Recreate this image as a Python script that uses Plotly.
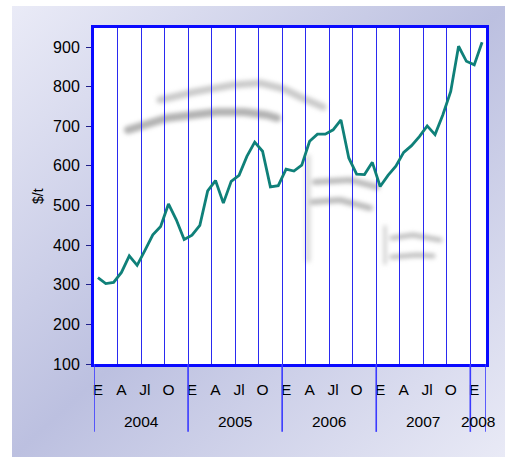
import base64
import plotly.graph_objects as go

# Monthly price, $/t, January 2004 - February 2008
month_index = list(range(50))
prices = [
    318, 303, 306, 331, 373, 349, 387, 426, 447, 504, 464, 414,   # 2004
    425, 450, 537, 563, 506, 561, 576, 624, 660, 637, 547, 550,   # 2005
    592, 587, 602, 662, 680, 680, 691, 716, 620, 579, 578, 609,   # 2006
    548, 576, 599, 634, 651, 674, 701, 679, 729, 788, 902, 864,   # 2007
    855, 912,                                                     # 2008
]
quarter_labels = ["E", "A", "Jl", "O"]
years = ["2004", "2005", "2006", "2007", "2008"]
months_per_year = [12, 12, 12, 12, 2]
y_ticks = [100, 200, 300, 400, 500, 600, 700, 800, 900]

W, H = 505, 457
ML, MR, MT, MB = 94, 19, 28, 93
PW, PH = W - ML - MR, H - MT - MB

FONT = "Liberation Sans, Arial, sans-serif"
BLUE = "#0a0aff"
GRID = "#2a2af0"
LINE = "#0f8079"

# quarter ticks and year boundaries
tick_pos = list(range(0, len(month_index), 3))
tick_txt = [quarter_labels[(p // 3) % 4] for p in tick_pos]
year_starts, s = [], 0
for n in months_per_year:
    year_starts.append(s)
    s += n
year_centres = [st + (n - 1) / 2 for st, n in zip(year_starts, months_per_year)]
year_bounds = [st - 0.5 for st in year_starts] + [len(month_index) - 0.5]


def svg_uri(svg):
    return "data:image/svg+xml;base64," + base64.b64encode(svg.encode()).decode()


# page background: diagonal lavender gradient
bg_svg = f'''<svg xmlns="http://www.w3.org/2000/svg" width="{W}" height="{H}" viewBox="0 0 {W} {H}" preserveAspectRatio="none">
<defs><linearGradient id="g" x1="0" y1="0" x2="1" y2="1">
<stop offset="0" stop-color="#eaebf7"/><stop offset="0.5" stop-color="#bcc0e0"/><stop offset="1" stop-color="#e9eaf6"/>
</linearGradient></defs>
<rect width="{W}" height="{H}" fill="#ffffff"/>
<rect x="12" y="6" width="{W - 12}" height="{H - 6}" fill="url(#g)"/>
</svg>'''

# plot area: white with a faint blurred logo watermark
strokes = [
    ("66,72 100,64 139,57 166,55 190,61 206,69 229,79", "#b8b8b8", 7, 0.75),
    ("34,102 73,90 123,84 150,84 173,87 183,90", "#a4a4a4", 8, 0.85),
    ("214,129 214,232", "#c8c8c8", 5, 0.7),
    ("221,154 256,152 283,159", "#aaaaaa", 6, 0.8),
    ("219,174 246,172 276,180", "#aaaaaa", 6, 0.8),
    ("291,199 291,235", "#c4c4c4", 4, 0.7),
    ("298,210 319,207 346,212", "#b0b0b0", 5, 0.8),
    ("298,229 323,227 339,228", "#b0b0b0", 5, 0.8),
]
paths = "".join(
    f'<polyline points="{p}" fill="none" stroke="{c}" stroke-width="{w}" '
    f'stroke-linecap="round" stroke-linejoin="round" opacity="{o}"/>'
    for p, c, w, o in strokes
)
wm_svg = f'''<svg xmlns="http://www.w3.org/2000/svg" width="{PW}" height="{PH}" viewBox="0 0 {PW} {PH}" preserveAspectRatio="none">
<defs><filter id="b" x="-20%" y="-20%" width="140%" height="140%"><feGaussianBlur stdDeviation="2.2"/></filter></defs>
<rect width="{PW}" height="{PH}" fill="#ffffff"/>
<g filter="url(#b)">{paths}</g>
</svg>'''

fig = go.Figure()
fig.add_trace(go.Scatter(
    x=month_index, y=prices, mode="lines",
    line=dict(color=LINE, width=2.8), hoverinfo="skip",
))

fig.add_layout_image(dict(
    source=svg_uri(bg_svg), xref="paper", yref="paper",
    x=-ML / PW, y=1 + MT / PH, sizex=W / PW, sizey=H / PH,
    xanchor="left", yanchor="top", sizing="stretch", layer="below",
))
fig.add_layout_image(dict(
    source=svg_uri(wm_svg), xref="x domain", yref="y domain",
    x=0, y=1, sizex=1, sizey=1,
    xanchor="left", yanchor="top", sizing="stretch", layer="below",
))

# year separators below the plot
for b in year_bounds:
    fig.add_shape(type="line", xref="x", yref="paper", x0=b, x1=b, y0=0, y1=-0.202,
                  line=dict(color="#3a3aff", width=1.6), layer="above")

for yr, c in zip(years, year_centres):
    fig.add_annotation(x=c, y=(-(421 - (MT + PH)) / PH), xref="x", yref="paper",
                       text=yr, showarrow=False, xanchor="center", yanchor="middle",
                       font=dict(family=FONT, size=15.5, color="#000000"))

fig.add_annotation(x=-(ML - 38) / PW, y=0.5, xref="paper", yref="paper", text="$/t",
                   textangle=-90, showarrow=False, xanchor="center", yanchor="middle",
                   font=dict(family=FONT, size=14, color="#000000"))

fig.update_layout(
    width=W, height=H,
    margin=dict(l=ML, r=MR, t=MT, b=MB, pad=0),
    paper_bgcolor="#ffffff", plot_bgcolor="rgba(0,0,0,0)",
    showlegend=False,
    xaxis=dict(
        range=[-0.5, len(month_index) - 0.5],
        tickmode="array", tickvals=tick_pos, ticktext=tick_txt,
        ticks="", showgrid=False, zeroline=False,
        tickfont=dict(family=FONT, size=15.5, color="#000000"),
        ticklabelstandoff=9,
        minor=dict(tick0=-0.5, dtick=3, showgrid=True, gridcolor=GRID, gridwidth=1, ticks=""),
        showline=True, linecolor=BLUE, linewidth=3, mirror=True,
    ),
    yaxis=dict(
        range=[100, 948],
        tickmode="array", tickvals=y_ticks,
        ticks="outside", ticklen=5, tickcolor="#20208a", tickwidth=1,
        showgrid=False, zeroline=False,
        tickfont=dict(family=FONT, size=16, color="#000000"),
        ticklabelstandoff=3,
        showline=True, linecolor=BLUE, linewidth=3, mirror=True,
    ),
)

fig.write_html("out.html")
